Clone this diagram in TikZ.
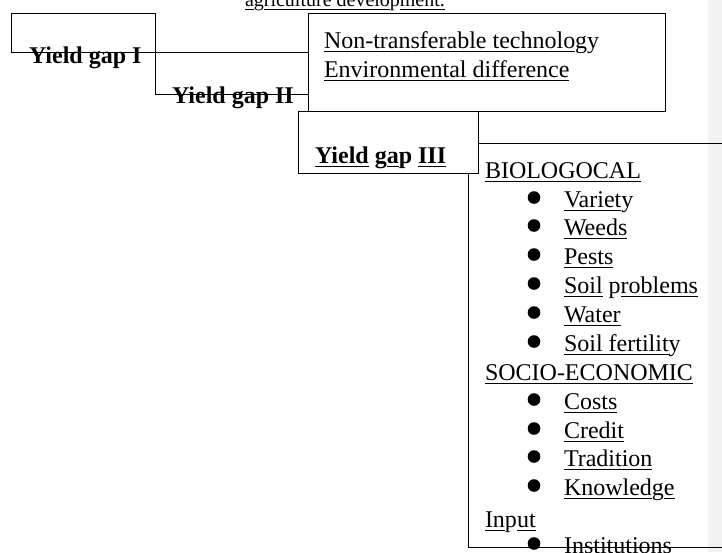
\documentclass[tikz,border=0pt]{standalone}
\usepackage{fontspec}
\setmainfont{Liberation Serif}
\newsavebox{\undlbox}
\newcommand{\undl}[1]{\sbox{\undlbox}{#1}\rlap{\rule[-4.3pt]{\wd\undlbox}{1.1pt}}\usebox{\undlbox}}
\definecolor{sidegray}{HTML}{F2F2F2}
\begin{document}
\begin{tikzpicture}[x=1pt,y=-1pt,
  box/.style={draw,line width=1pt,inner sep=0pt,outer sep=0pt,anchor=north west},
  lbl/.style={anchor=base west,inner sep=0pt,outer sep=0pt,font=\fontsize{24}{28}\selectfont},
  small/.style={anchor=base west,inner sep=0pt,outer sep=0pt,font=\fontsize{20}{24}\selectfont},
  conn/.style={line width=1pt},
  dot/.style={circle,fill=black,inner sep=0pt,minimum size=12.6pt}]
\useasboundingbox (0,0) rectangle (722,552);
\fill[sidegray] (708,0) rectangle (722,552);
% top text (cut off)
\node[small] (top) at (245,6) {\undl{a}g\undl{riculture develo}p\undl{ment.}};
% boxes
\node[box,minimum width=144pt,minimum height=39pt] (b1) at (11,13) {};
\node[box,fill=white,minimum width=357pt,minimum height=98pt] (b2) at (308,13) {};
\node[box,minimum width=290pt,minimum height=404pt] (b4) at (468,143) {};
\node[box,fill=white,minimum width=180pt,minimum height=62pt] (b3) at (298,111) {};
% connectors
\draw[conn] (b1.south east) -- (b1.south east -| b2.west);
\draw[conn] (b1.south east) -- ++(0,42) coordinate (k2) -- (k2 -| b2.west);
% labels
\node[lbl,font=\fontsize{24}{28}\selectfont\bfseries] (g1) at (29,63) {Yield gap I};
\node[lbl,font=\fontsize{24}{28}\selectfont\bfseries] (g2) at (172,103) {Yield gap II};
\node[lbl] (nt) at (324,48) {\undl{Non-transferable technolo}gy};
\node[lbl] (ed) at (324,77) {\undl{Environmental difference}};
\node[lbl,font=\fontsize{24}{28}\selectfont\bfseries] (g3) at (315,163) {\undl{Yield} g\undl{a}p \undl{III}};
\node[lbl] (bio) at (485,178) {\undl{BIOLOGOCAL}};
\node[lbl] (soc) at (485,380) {\undl{SOCIO-ECONOMIC}};
\node[lbl] (inp) at (485,527) {\undl{In}p\undl{ut}};
\foreach \itemy/\itemtext/\itemname in {
  207/{\undl{Variet}y}/var,
  235/{\undl{Weeds}}/wee,
  264/{\undl{Pests}}/pes,
  293/{\undl{Soil} p\undl{roblems}}/soi,
  322/{\undl{Water}}/wat,
  351/{\undl{Soil fertilit}y}/fer,
  409/{\undl{Costs}}/cos,
  438/{\undl{Credit}}/cre,
  466/{\undl{Tradition}}/tra,
  495/{\undl{Knowled}g\undl{e}}/kno,
  553/{Institutions}/ins}{
  \node[dot] (d\itemname) at (534,{\itemy-9.5}) {};
  \node[lbl] (t\itemname) at (564,\itemy) {\itemtext};
}
\end{tikzpicture}
\end{document}
